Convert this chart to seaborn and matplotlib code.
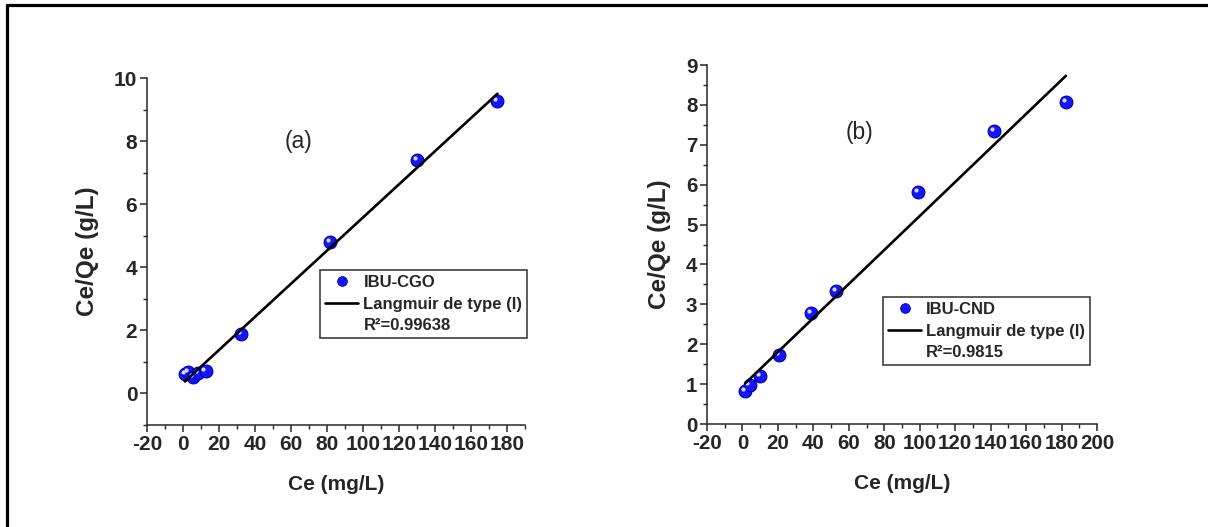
import numpy as np
import pandas as pd
import matplotlib
matplotlib.use('Agg')
import matplotlib.pyplot as plt
import seaborn as sns
from matplotlib import transforms
from matplotlib.lines import Line2D
from matplotlib.ticker import MultipleLocator

# ---- data ----
ce_cgo = [1.0, 2.7, 5.7, 8.4, 12.5, 32.3, 81.8, 130.0, 174.7]
ratio_cgo = [0.61, 0.68, 0.52, 0.64, 0.71, 1.88, 4.81, 7.41, 9.28]
ce_cnd = [1.5, 4.0, 10.0, 20.5, 38.6, 52.6, 99.0, 141.8, 182.5]
ratio_cnd = [0.83, 0.97, 1.20, 1.72, 2.78, 3.33, 5.81, 7.34, 8.07]
series_labels = ['IBU-CGO', 'IBU-CND']
r2_labels = ['R²=0.99638', 'R²=0.9815']
fit_label = 'Langmuir de type (I)'
panel_tags = ['(a)', '(b)']
x_label = 'Ce (mg/L)'
y_label = 'Ce/Qe (g/L)'
xticks_a = list(range(-20, 181, 20))
yticks_a = list(range(0, 11, 2))
xticks_b = list(range(-20, 201, 20))
yticks_b = list(range(0, 10, 1))

sns.set_style('ticks')
plt.rcParams['font.family'] = ['Liberation Sans', 'DejaVu Sans']
plt.rcParams['axes.unicode_minus'] = False

fig = plt.figure(figsize=(12.08, 5.27), dpi=100)
ax1 = fig.add_axes([0.1217, 0.1935, 0.3129, 0.6584])
ax2 = fig.add_axes([0.5853, 0.1954, 0.3228, 0.6812])

BLUE = '#1414ff'
EDGE = '#0000a0'


def panel(ax, ce, ratio, label, r2, tag, xlim, ylim, xt, yt, yminor, tick_fs, leg_anchor, tag_pos, ylabelpad):
    df = pd.DataFrame({'Ce': ce, 'ratio': ratio})
    sns.regplot(data=df, x='Ce', y='ratio', ax=ax, scatter=False, ci=None, truncate=True,
                line_kws=dict(color='black', lw=1.9, zorder=5))
    sns.scatterplot(data=df, x='Ce', y='ratio', ax=ax, s=85, color=BLUE, edgecolor=EDGE,
                    linewidth=0.8, zorder=3, legend=False)
    hl = ax.transData + transforms.ScaledTranslation(-1.6 / 72, 1.6 / 72, fig.dpi_scale_trans)
    ax.scatter(ce, ratio, s=9, color='#d8d8ff', linewidth=0, transform=hl, zorder=4)

    ax.set_xlim(*xlim)
    ax.set_ylim(*ylim)
    ax.set_xticks(xt)
    ax.set_yticks(yt)
    ax.xaxis.set_minor_locator(MultipleLocator(10))
    ax.yaxis.set_minor_locator(MultipleLocator(yminor))
    for s in ['top', 'right']:
        ax.spines[s].set_visible(False)
    for s in ['left', 'bottom']:
        ax.spines[s].set_linewidth(1.1)
    ax.tick_params(which='major', direction='out', length=5, width=1.1, pad=2, labelsize=tick_fs)
    ax.tick_params(which='minor', direction='out', length=3, width=1.0)
    for t in ax.get_xticklabels() + ax.get_yticklabels():
        t.set_fontweight('bold')
    ax.set_xlabel(x_label, fontsize=15, fontweight='bold', labelpad=15)
    ax.set_ylabel(y_label, fontsize=17.5, fontweight='bold', labelpad=ylabelpad)
    ax.text(tag_pos[0], tag_pos[1], tag, transform=ax.transAxes, fontsize=16.5,
            ha='center', va='center')

    h1 = Line2D([], [], ls='', marker='o', ms=7, color=BLUE, mec=EDGE, mew=0.6)
    h2 = Line2D([], [], color='black', lw=1.9)
    h3 = Line2D([], [], alpha=0)
    leg = ax.legend([h1, h2, h3], [label, fit_label, r2], loc='upper left',
                    bbox_to_anchor=leg_anchor, frameon=True, fancybox=False,
                    edgecolor='#404040', prop=dict(weight='bold', size=12),
                    handlelength=2.0, handletextpad=0.3, borderpad=0.3,
                    labelspacing=0.4, borderaxespad=0, framealpha=1)
    leg.get_frame().set_linewidth(1.2)


panel(ax1, ce_cgo, ratio_cgo, series_labels[0], r2_labels[0], panel_tags[0],
      (-20, 190), (-1, 10), xticks_a, yticks_a, 1, 15, (0.458, 0.447), (0.40, 0.816), 11)
panel(ax2, ce_cnd, ratio_cnd, series_labels[1], r2_labels[1], panel_tags[1],
      (-20, 200), (0, 9), xticks_b, yticks_b, 0.5, 14.8, (0.451, 0.354), (0.392, 0.813), 11)

# outer frame (left and top edges visible)
fig.add_artist(Line2D([0.0058, 0.0058, 1.0], [0.0, 0.9905, 0.9905], transform=fig.transFigure,
                      color='black', lw=2.3))

fig.savefig('out.png', dpi=100)
